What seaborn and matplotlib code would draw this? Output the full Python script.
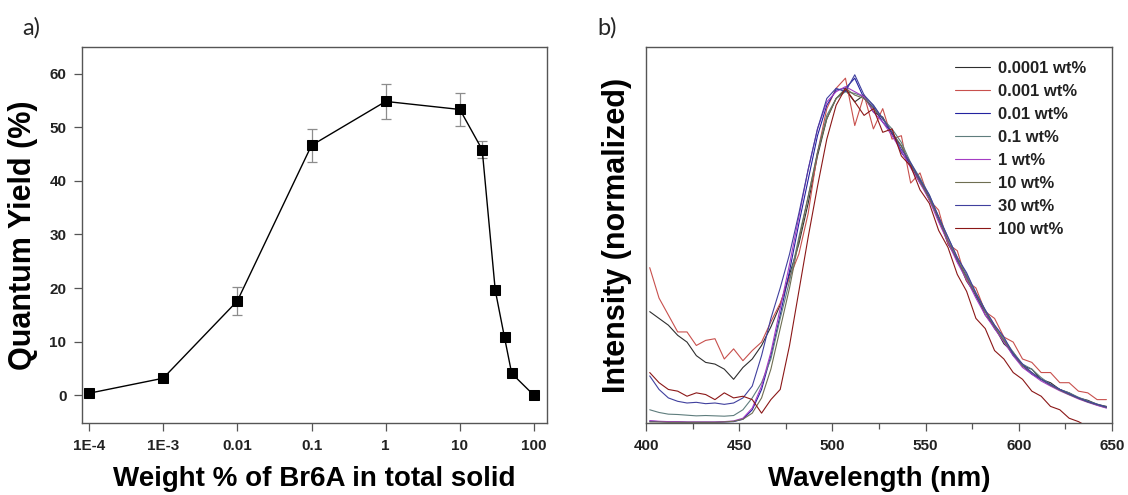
import matplotlib
matplotlib.use("Agg")
import matplotlib.pyplot as plt
import seaborn as sns
import pandas as pd
import numpy as np

# ---------------- data: panel a ----------------
wt_percent = [1e-4, 1e-3, 0.01, 0.1, 1, 10, 20, 30, 40, 50, 100]
quantum_yield = [0.4, 3.2, 17.6, 46.6, 54.8, 53.3, 45.8, 19.6, 10.8, 4.1, 0.0]
qy_error = [0, 0, 2.6, 3.0, 3.3, 3.0, 1.6, 0, 0, 0, 0]
x_tick_values = [1e-4, 1e-3, 0.01, 0.1, 1, 10, 100]
x_tick_labels = ["1E-4", "1E-3", "0.01", "0.1", "1", "10", "100"]
y_tick_values = [0, 10, 20, 30, 40, 50, 60]

# ---------------- data: panel b ----------------
wavelength = [402, 407, 412, 417, 422, 427, 432, 437, 442, 447,
              452, 457, 462, 467, 472, 477, 482, 487, 492, 497,
              502, 507, 512, 517, 522, 527, 532, 537, 542, 547,
              552, 557, 562, 567, 572, 577, 582, 587, 592, 597,
              602, 607, 612, 617, 622, 627, 632, 637, 642, 647]

s_0_0001 = [0.33, 0.31, 0.29, 0.26, 0.24, 0.20, 0.18, 0.175, 0.16, 0.13,
            0.165, 0.19, 0.23, 0.285, 0.35, 0.44, 0.53, 0.65, 0.79, 0.90,
            0.96, 0.985, 0.95, 0.97, 0.92, 0.905, 0.855, 0.82, 0.76, 0.72,
            0.66, 0.61, 0.53, 0.485, 0.42, 0.38, 0.32, 0.285, 0.235, 0.21,
            0.17, 0.16, 0.13, 0.12, 0.10, 0.09, 0.075, 0.068, 0.056, 0.05]
s_0_001 = [0.46, 0.37, 0.32, 0.27, 0.27, 0.23, 0.245, 0.25, 0.19, 0.22,
           0.185, 0.215, 0.24, 0.30, 0.355, 0.43, 0.50, 0.62, 0.80, 0.93,
           0.99, 1.02, 0.88, 0.97, 0.87, 0.93, 0.84, 0.85, 0.71, 0.74,
           0.66, 0.63, 0.53, 0.51, 0.42, 0.40, 0.33, 0.31, 0.255, 0.24,
           0.19, 0.18, 0.15, 0.15, 0.12, 0.12, 0.095, 0.09, 0.07, 0.07]
s_0_01 = [0.006, 0.005, 0.004, 0.004, 0.003, 0.003, 0.003, 0.003, 0.004, 0.005,
          0.012, 0.04, 0.10, 0.20, 0.32, 0.45, 0.59, 0.72, 0.85, 0.94,
          0.985, 0.99, 1.02, 0.96, 0.935, 0.89, 0.86, 0.80, 0.765, 0.71,
          0.67, 0.60, 0.54, 0.48, 0.435, 0.375, 0.33, 0.28, 0.245, 0.20,
          0.17, 0.145, 0.13, 0.112, 0.10, 0.086, 0.074, 0.064, 0.054, 0.046]
s_0_1 = [0.04, 0.032, 0.027, 0.026, 0.024, 0.022, 0.023, 0.022, 0.021, 0.023,
         0.04, 0.075, 0.12, 0.19, 0.31, 0.42, 0.55, 0.67, 0.80, 0.91,
         0.96, 0.98, 0.975, 0.965, 0.94, 0.90, 0.87, 0.83, 0.77, 0.725,
         0.675, 0.61, 0.55, 0.49, 0.44, 0.385, 0.335, 0.29, 0.25, 0.21,
         0.175, 0.16, 0.135, 0.115, 0.10, 0.09, 0.077, 0.066, 0.057, 0.048]
s_1 = [0.008, 0.006, 0.005, 0.005, 0.004, 0.004, 0.004, 0.004, 0.005, 0.007,
       0.015, 0.045, 0.11, 0.21, 0.34, 0.47, 0.61, 0.75, 0.87, 0.95,
       0.98, 0.995, 0.98, 0.965, 0.92, 0.89, 0.85, 0.805, 0.755, 0.71,
       0.66, 0.595, 0.535, 0.475, 0.425, 0.37, 0.32, 0.28, 0.24, 0.20,
       0.165, 0.145, 0.125, 0.11, 0.096, 0.084, 0.072, 0.062, 0.053, 0.045]
s_10 = [0.004, 0.004, 0.003, 0.003, 0.003, 0.003, 0.003, 0.003, 0.004, 0.006,
        0.012, 0.03, 0.075, 0.16, 0.28, 0.40, 0.54, 0.67, 0.80, 0.90,
        0.96, 0.99, 0.97, 0.96, 0.93, 0.90, 0.86, 0.82, 0.765, 0.715,
        0.665, 0.605, 0.54, 0.485, 0.43, 0.38, 0.33, 0.285, 0.245, 0.205,
        0.17, 0.15, 0.13, 0.113, 0.098, 0.085, 0.074, 0.063, 0.055, 0.047]
s_30 = [0.14, 0.10, 0.075, 0.065, 0.06, 0.062, 0.058, 0.06, 0.056, 0.06,
        0.075, 0.11, 0.20, 0.31, 0.40, 0.50, 0.62, 0.75, 0.87, 0.96,
        0.99, 0.98, 1.03, 0.97, 0.94, 0.90, 0.86, 0.81, 0.77, 0.72,
        0.675, 0.61, 0.55, 0.49, 0.445, 0.385, 0.335, 0.29, 0.255, 0.205,
        0.175, 0.15, 0.13, 0.115, 0.10, 0.087, 0.075, 0.064, 0.056, 0.048]
s_100 = [0.15, 0.12, 0.10, 0.095, 0.08, 0.09, 0.085, 0.07, 0.09, 0.075,
         0.08, 0.07, 0.03, 0.07, 0.10, 0.23, 0.39, 0.55, 0.70, 0.84,
         0.94, 0.99, 0.95, 0.91, 0.93, 0.86, 0.87, 0.79, 0.76, 0.69,
         0.65, 0.57, 0.52, 0.44, 0.39, 0.31, 0.28, 0.215, 0.19, 0.15,
         0.13, 0.095, 0.08, 0.05, 0.04, 0.015, 0.005, -0.01, -0.02, -0.03]

sample_labels = ["0.0001 wt%", "0.001 wt%", "0.01 wt%", "0.1 wt%",
                 "1 wt%", "10 wt%", "30 wt%", "100 wt%"]
sample_colors = ["#2e2e2e", "#c8504d", "#2323a0", "#5f7d7d",
                 "#a43cc4", "#6e6e52", "#40409e", "#8b1717"]
spectra = [s_0_0001, s_0_001, s_0_01, s_0_1, s_1, s_10, s_30, s_100]

rows = []
for lab, ys in zip(sample_labels, spectra):
    for w, v in zip(wavelength, ys):
        rows.append({"wl": w, "I": v, "sample": lab})
df_spec = pd.DataFrame(rows)

# ---------------- style ----------------
sns.set_style("white")
plt.rcParams["font.family"] = ["Liberation Sans", "DejaVu Sans"]

W, H = 1128, 495
fig = plt.figure(figsize=(W / 100, H / 100), dpi=100)
bottom = 1 - 423.3 / H
height = (423.3 - 46.7) / H
axL = fig.add_axes([81.7 / W, bottom, (546.5 - 81.7) / W, height])
axR = fig.add_axes([646 / W, bottom, (1112 - 646) / W, height])

spine_col = "#555555"
tick_col = "#222222"

# ---------------- panel a ----------------
axL.set_xscale("log")
err_x = [x for x, e in zip(wt_percent, qy_error) if e > 0]
err_y = [y for y, e in zip(quantum_yield, qy_error) if e > 0]
err_e = [e for e in qy_error if e > 0]
axL.errorbar(err_x, err_y, yerr=err_e, fmt="none", ecolor="#8c8c8c",
             elinewidth=0.9, capsize=3.5, capthick=0.9, zorder=1)
sns.lineplot(x=wt_percent, y=quantum_yield, ax=axL, color="black",
             linewidth=1.0, marker="s", markersize=6.5,
             markeredgecolor="black", markerfacecolor="black", zorder=3)
axL.set_xlim(10 ** -4.098, 10 ** 2.168)
axL.set_ylim(-5.2, 65)
axL.set_xticks(x_tick_values)
axL.set_xticklabels(x_tick_labels)
axL.minorticks_off()
axL.set_yticks(y_tick_values)
axL.tick_params(axis="both", direction="out", length=6, width=0.9,
                color=spine_col, labelsize=11, labelcolor=tick_col, pad=5,
                bottom=True, left=True)
for lab in axL.get_xticklabels() + axL.get_yticklabels():
    lab.set_fontweight("bold")
axL.set_xlabel("Weight % of Br6A in total solid", fontsize=20,
               fontweight="bold", labelpad=10, color="black")
axL.set_ylabel("Quantum Yield (%)", fontsize=22, fontweight="bold",
               labelpad=8, color="black")

# ---------------- panel b ----------------
sns.lineplot(data=df_spec, x="wl", y="I", hue="sample",
             hue_order=sample_labels,
             palette=dict(zip(sample_labels, sample_colors)),
             linewidth=0.8, estimator=None, ax=axR)
axR.set_xlim(400, 650)
axR.set_ylim(0, 1.113)
axR.set_xticks([400, 450, 500, 550, 600, 650])
axR.set_xticks([425, 475, 525, 575, 625], minor=True)
axR.set_yticks([])
axR.tick_params(axis="x", which="major", direction="out", length=6,
                width=0.9, color=spine_col, labelsize=11,
                labelcolor=tick_col, pad=5, bottom=True)
axR.tick_params(axis="x", which="minor", direction="out", length=4,
                width=0.9, color=spine_col, bottom=True)
for lab in axR.get_xticklabels():
    lab.set_fontweight("bold")
axR.set_xlabel("Wavelength (nm)", fontsize=20, fontweight="bold",
               labelpad=10, color="black")
axR.set_ylabel("Intensity (normalized)", fontsize=22, fontweight="bold",
               labelpad=10, color="black")
sns.move_legend(axR, loc="upper left", bbox_to_anchor=(0.663, 0.962),
                frameon=False, title=None, borderpad=0, borderaxespad=0,
                handlelength=2.1, handletextpad=0.5, labelspacing=0.48,
                prop={"weight": "bold", "size": 12})
for t in axR.get_legend().get_texts():
    t.set_color(tick_col)

for ax in (axL, axR):
    for sp in ax.spines.values():
        sp.set_color(spine_col)
        sp.set_linewidth(1.0)
        sp.set_visible(True)

# panel letters
fig.text(22 / W, 1 - 28 / H, "a)", fontsize=17, family=["Lato", "DejaVu Sans"],
         va="center", ha="left")
fig.text(597 / W, 1 - 28 / H, "b)", fontsize=17, family=["Lato", "DejaVu Sans"],
         va="center", ha="left")

fig.savefig("out.png", dpi=100)
